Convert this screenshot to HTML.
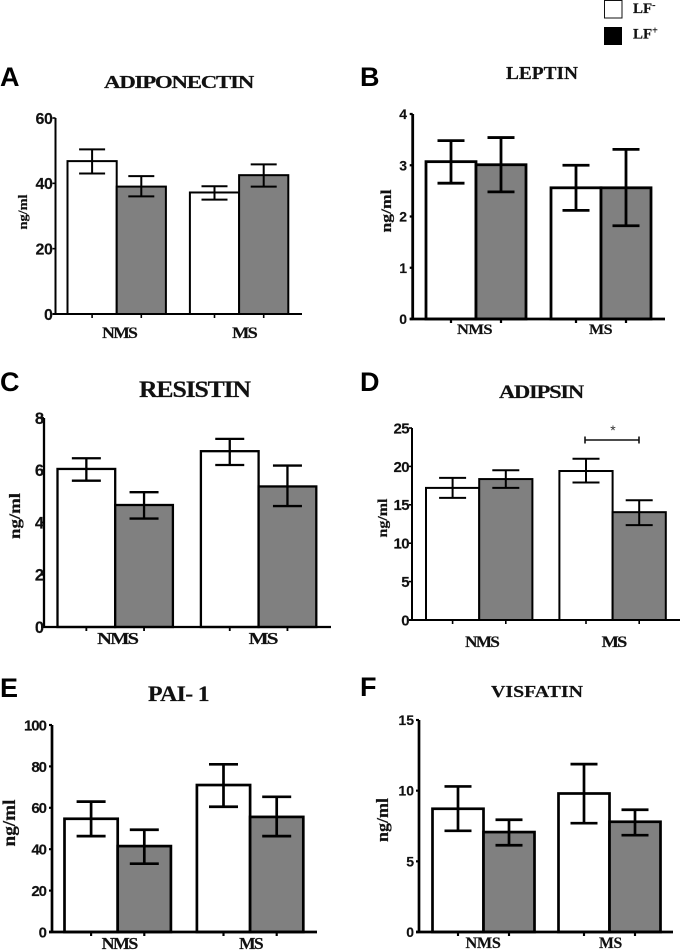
<!DOCTYPE html>
<html lang="en">
<head>
<meta charset="utf-8">
<title>Adipokine levels by LF status</title>
<style>
html,body{margin:0;padding:0;background:#fff;width:680px;height:951px;overflow:hidden}
svg{display:block;filter:blur(0.35px)}
.title,.cat,.ylab,.leg{font-family:"Liberation Serif",serif;font-weight:bold;fill:#111;stroke:#111;stroke-width:0.2}
.tick,.letter{font-family:"Liberation Sans",sans-serif;font-weight:bold;fill:#111}
.tick{stroke:#111;stroke-width:0.15}
.letter{font-size:27px;fill:#000}
</style>
</head>
<body>
<svg id="figure" width="680" height="951" viewBox="0 0 680 951" xmlns="http://www.w3.org/2000/svg">
  <g>
    <rect x="604.5" y="0.5" width="17.5" height="17.5" fill="#fff" stroke="#111" stroke-width="1"/>
    <text class="leg" x="633" y="13" font-size="15">LF<tspan dy="-5" font-size="10">-</tspan></text>
    <rect x="604" y="27" width="18" height="18" fill="#000"/>
    <text class="leg" x="633" y="38.5" font-size="15">LF<tspan dy="-5" font-size="10">+</tspan></text>
  </g>
  <text class="letter" x="0" y="86">A</text>
  <text class="letter" x="360" y="86">B</text>
  <text class="letter" x="0" y="391">C</text>
  <text class="letter" x="360" y="391">D</text>
  <text class="letter" x="0" y="697">E</text>
  <text class="letter" x="360" y="696">F</text>
  <text class="title" x="104" y="88" font-size="18" letter-spacing="-1" textLength="149" lengthAdjust="spacingAndGlyphs">ADIPONECTIN</text>
  <text class="title" x="506" y="79" font-size="18" textLength="72" lengthAdjust="spacingAndGlyphs">LEPTIN</text>
  <text class="title" x="139" y="397" font-size="23" letter-spacing="-1" textLength="111" lengthAdjust="spacingAndGlyphs">RESISTIN</text>
  <text class="title" x="499" y="398" font-size="19" letter-spacing="-1" textLength="84" lengthAdjust="spacingAndGlyphs">ADIPSIN</text>
  <text class="title" x="148" y="701" font-size="22" letter-spacing="-0.6" textLength="61" lengthAdjust="spacingAndGlyphs">PAI- 1</text>
  <text class="title" x="491" y="697" font-size="17" textLength="92" lengthAdjust="spacingAndGlyphs">VISFATIN</text>
  <text class="ylab" transform="translate(27 212) rotate(-90)" text-anchor="middle" font-size="13" textLength="35" lengthAdjust="spacingAndGlyphs">ng/ml</text>
  <text class="ylab" transform="translate(391 211) rotate(-90)" text-anchor="middle" font-size="15" textLength="43" lengthAdjust="spacingAndGlyphs">ng/ml</text>
  <text class="ylab" transform="translate(20 516) rotate(-90)" text-anchor="middle" font-size="16" textLength="46" lengthAdjust="spacingAndGlyphs">ng/ml</text>
  <text class="ylab" transform="translate(387 518) rotate(-90)" text-anchor="middle" font-size="14" textLength="39" lengthAdjust="spacingAndGlyphs">ng/ml</text>
  <text class="ylab" transform="translate(15 823) rotate(-90)" text-anchor="middle" font-size="18" textLength="47" lengthAdjust="spacingAndGlyphs">ng/ml</text>
  <text class="ylab" transform="translate(388 820) rotate(-90)" text-anchor="middle" font-size="17" textLength="44" lengthAdjust="spacingAndGlyphs">ng/ml</text>
  <g stroke="#111" stroke-width="1.6">
    <line x1="585" x2="639" y1="440" y2="440"/>
    <line x1="585" x2="585" y1="436.5" y2="443.5"/>
    <line x1="639" x2="639" y1="436.5" y2="443.5"/>
    <text x="613" y="435" text-anchor="middle" font-size="14" stroke="none" fill="#333" font-family="Liberation Sans, sans-serif">*</text>
  </g>
</svg>
<script>
const categories = ['NMS', 'MS'];

const adiponectinTicks = [0, 20, 40, 60];
const adiponectinNeg = [46.8, 37.2];
const adiponectinPos = [39, 42.5];
const adiponectinNegHigh = [50.4, 39.1];
const adiponectinNegLow = [43, 35];
const adiponectinPosHigh = [42.2, 45.8];
const adiponectinPosLow = [36, 39];

const leptinTicks = [0, 1, 2, 3, 4];
const leptinNeg = [3.07, 2.56];
const leptinPos = [3.01, 2.56];
const leptinNegHigh = [3.48, 3.0];
const leptinNegLow = [2.65, 2.12];
const leptinPosHigh = [3.54, 3.31];
const leptinPosLow = [2.48, 1.82];

const resistinTicks = [0, 2, 4, 6, 8];
const resistinNeg = [6.05, 6.73];
const resistinPos = [4.67, 5.38];
const resistinNegHigh = [6.46, 7.2];
const resistinNegLow = [5.6, 6.2];
const resistinPosHigh = [5.16, 6.18];
const resistinPosLow = [4.15, 4.63];

const adipsinTicks = [0, 5, 10, 15, 20, 25];
const adipsinNeg = [17.2, 19.4];
const adipsinPos = [18.35, 14.04];
const adipsinNegHigh = [18.5, 21];
const adipsinNegLow = [15.9, 17.9];
const adipsinPosHigh = [19.5, 15.6];
const adipsinPosLow = [17.2, 12.35];

const paiTicks = [0, 20, 40, 60, 80, 100];
const paiNeg = [54.7, 71];
const paiPos = [41.5, 55.6];
const paiNegHigh = [63, 81];
const paiNegLow = [46.3, 60.5];
const paiPosHigh = [49.4, 65.3];
const paiPosLow = [33, 46.3];

const visfatinTicks = [0, 5, 10, 15];
const visfatinNeg = [8.72, 9.8];
const visfatinPos = [7.07, 7.8];
const visfatinNegHigh = [10.3, 11.88];
const visfatinNegLow = [7.16, 7.7];
const visfatinPosHigh = [7.94, 8.65];
const visfatinPosLow = [6.14, 6.85];

const SVG_NS = 'http://www.w3.org/2000/svg';
const figure = document.getElementById('figure');

function make(parent, tag, attrs, text) {
  const el = document.createElementNS(SVG_NS, tag);
  for (const k in attrs) el.setAttribute(k, attrs[k]);
  if (text !== undefined) el.textContent = text;
  parent.appendChild(el);
  return el;
}

function drawPanel(p) {
  const group = make(figure, 'g', {});
  
  

  const maxTick = p.ticks[p.ticks.length - 1];
  const yScale = v => p.base - (v / maxTick) * (p.base - p.top);
  const barX = (groupIndex, seriesIndex) => p.start + groupIndex * (2 * p.barW + p.gap) + seriesIndex * p.barW;
  const seriesList = [
    { key: 'lf-negative', fill: '#ffffff', vals: p.neg, high: p.negHigh, low: p.negLow },
    { key: 'lf-positive', fill: '#808080', vals: p.pos, high: p.posHigh, low: p.posLow }
  ];

  seriesList.forEach((s, si) => {
    s.vals.forEach((v, gi) => {
      const bar = make(group, 'rect', {
        x: barX(gi, si), y: yScale(v), width: p.barW, height: p.base - yScale(v),
        fill: s.fill, stroke: '#000', 'stroke-width': p.sw
      });
      
      
    });
  });

  seriesList.forEach((s, si) => {
    s.vals.forEach((v, gi) => {
      const cx = barX(gi, si) + p.barW / 2;
      const d = 'M' + cx + ' ' + yScale(s.high[gi]) + 'V' + yScale(s.low[gi]) +
        'M' + (cx - p.cap / 2) + ' ' + yScale(s.high[gi]) + 'H' + (cx + p.cap / 2) +
        'M' + (cx - p.cap / 2) + ' ' + yScale(s.low[gi]) + 'H' + (cx + p.cap / 2);
      const err = make(group, 'path', { d: d, fill: 'none', stroke: '#000', 'stroke-width': p.sw });
      
      
    });
  });

  const yAxis = make(group, 'line', { x1: p.axisX, x2: p.axisX, y1: p.top, y2: p.base, stroke: '#000', 'stroke-width': p.sw });
  
  
  const xAxis = make(group, 'line', { x1: p.axisX - 3, x2: p.right, y1: p.base, y2: p.base, stroke: '#000', 'stroke-width': p.sw });
  
  

  p.ticks.forEach(t => {
    const mark = make(group, 'line', { x1: p.axisX - 3, x2: p.axisX, y1: yScale(t), y2: yScale(t), stroke: '#000', 'stroke-width': p.sw * 0.8 });
    
    
    const label = make(group, 'text', {
      class: 'tick', x: p.tickRight, y: yScale(t) + p.tickSize * 0.36, 'text-anchor': 'end',
      'font-size': p.tickSize, 'letter-spacing': p.tickSpacing
    }, String(t));
    
    
  });

  categories.forEach((c, gi) => {
    [0, 1].forEach(si => {
      const cx = barX(gi, si) + p.barW / 2;
      const tick = make(group, 'line', { x1: cx, x2: cx, y1: p.base, y2: p.base + 4, stroke: '#000', 'stroke-width': p.sw * 0.8 });
      
      
    });
    const centre = barX(gi, 1) + p.labelDx[gi];
    const w = p.labelW[gi];
    const label = make(group, 'text', {
      class: 'cat', x: centre - w / 2, y: p.labelY, 'font-size': p.labelSize, 'letter-spacing': p.labelSpacing,
      textLength: w, lengthAdjust: 'spacingAndGlyphs'
    }, c);
    
    
  });
}

drawPanel({ name: 'adiponectin', ticks: adiponectinTicks, neg: adiponectinNeg, pos: adiponectinPos, negHigh: adiponectinNegHigh, negLow: adiponectinNegLow, posHigh: adiponectinPosHigh, posLow: adiponectinPosLow,
  axisX: 55.5, top: 118, base: 314, right: 302, start: 67.5, barW: 49.2, gap: 24, cap: 26, sw: 2, tickRight: 52.5, tickSize: 16, tickSpacing: -0.4, labelY: 338, labelSize: 16, labelSpacing: -1.5, labelDx: [2.5, 5], labelW: [34, 24] });
drawPanel({ name: 'leptin', ticks: leptinTicks, neg: leptinNeg, pos: leptinPos, negHigh: leptinNegHigh, negLow: leptinNegLow, posHigh: leptinPosHigh, posLow: leptinPosLow,
  axisX: 412.7, top: 114, base: 319, right: 665, start: 426, barW: 50, gap: 25, cap: 27, sw: 2.8, tickRight: 407, tickSize: 14, tickSpacing: 0, labelY: 334, labelSize: 15, labelSpacing: -0.5, labelDx: [-1.5, -0.5], labelW: [35, 23] });
drawPanel({ name: 'resistin', ticks: resistinTicks, neg: resistinNeg, pos: resistinPos, negHigh: resistinNegHigh, negLow: resistinNegLow, posHigh: resistinPosHigh, posLow: resistinPosLow,
  axisX: 44, top: 418, base: 627, right: 331, start: 57.5, barW: 57.7, gap: 28, cap: 29, sw: 2.3, tickRight: 44, tickSize: 16.5, tickSpacing: 0, labelY: 644, labelSize: 17, labelSpacing: -1.5, labelDx: [2, 4], labelW: [40, 28] });
drawPanel({ name: 'adipsin', ticks: adipsinTicks, neg: adipsinNeg, pos: adipsinPos, negHigh: adipsinNegHigh, negLow: adipsinNegLow, posHigh: adipsinPosHigh, posLow: adipsinPosLow,
  axisX: 412, top: 428, base: 620, right: 680, start: 426, barW: 53.2, gap: 27, cap: 27, sw: 2, tickRight: 409, tickSize: 15, tickSpacing: -0.6, labelY: 647, labelSize: 16, labelSpacing: -1.5, labelDx: [2.5, 1], labelW: [33, 24] });
drawPanel({ name: 'pai-1', ticks: paiTicks, neg: paiNeg, pos: paiPos, negHigh: paiNegHigh, negLow: paiNegLow, posHigh: paiPosHigh, posLow: paiPosLow,
  axisX: 52, top: 725, base: 932, right: 317, start: 64.5, barW: 53.2, gap: 26, cap: 29, sw: 2.7, tickRight: 46, tickSize: 15, tickSpacing: -1, labelY: 949, labelSize: 17, labelSpacing: -1.5, labelDx: [1.5, 0.5], labelW: [35, 23] });
drawPanel({ name: 'visfatin', ticks: visfatinTicks, neg: visfatinNeg, pos: visfatinPos, negHigh: visfatinNegHigh, negLow: visfatinNegLow, posHigh: visfatinPosHigh, posLow: visfatinPosLow,
  axisX: 419, top: 720, base: 932, right: 673, start: 432.5, barW: 51, gap: 24, cap: 27, sw: 2.7, tickRight: 414, tickSize: 14, tickSpacing: 0, labelY: 948, labelSize: 16, labelSpacing: -0.3, labelDx: [-0.5, 1], labelW: [35, 23] });
</script>
</body>
</html>
